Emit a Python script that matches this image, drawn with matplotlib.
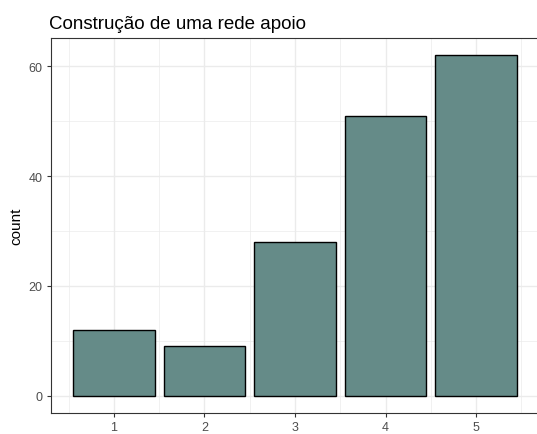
import matplotlib
matplotlib.use("Agg")
import matplotlib.pyplot as plt
import numpy as np

categories = [1, 2, 3, 4, 5]
counts = [12, 9, 28, 51, 62]

plt.rcParams["font.family"] = ["Liberation Sans", "DejaVu Sans"]

fig = plt.figure(figsize=(5.37, 4.35), dpi=100)
ax = fig.add_axes([51 / 537, 1 - 414 / 435, 488 / 537, 375 / 435])

ax.bar(categories, counts, width=0.9, color="#658b88", edgecolor="black",
       linewidth=1.0, zorder=3)

ax.set_xlim(0.305, 5.695)
ax.set_ylim(-3.1, 65.1)
ax.set_xticks(categories)
ax.set_yticks([0, 20, 40, 60])
ax.set_xticks(np.arange(0.5, 6.0, 1.0), minor=True)
ax.set_yticks([10, 30, 50], minor=True)
ax.grid(which="major", color="#ebebeb", linewidth=1.0, zorder=0)
ax.grid(which="minor", color="#ebebeb", linewidth=0.5, zorder=0)
ax.tick_params(which="minor", length=0)
ax.tick_params(which="major", length=3, width=0.8, color="#333333",
               labelcolor="#4d4d4d", labelsize=9, pad=3)

for s in ax.spines.values():
    s.set_color("#333333")
    s.set_linewidth(0.8)

ax.set_ylabel("count", fontsize=11, labelpad=4)
ax.set_title("Construção de uma rede apoio", loc="left", fontsize=13.5,
             x=-0.005, pad=7)

fig.savefig("out.png", dpi=100)
